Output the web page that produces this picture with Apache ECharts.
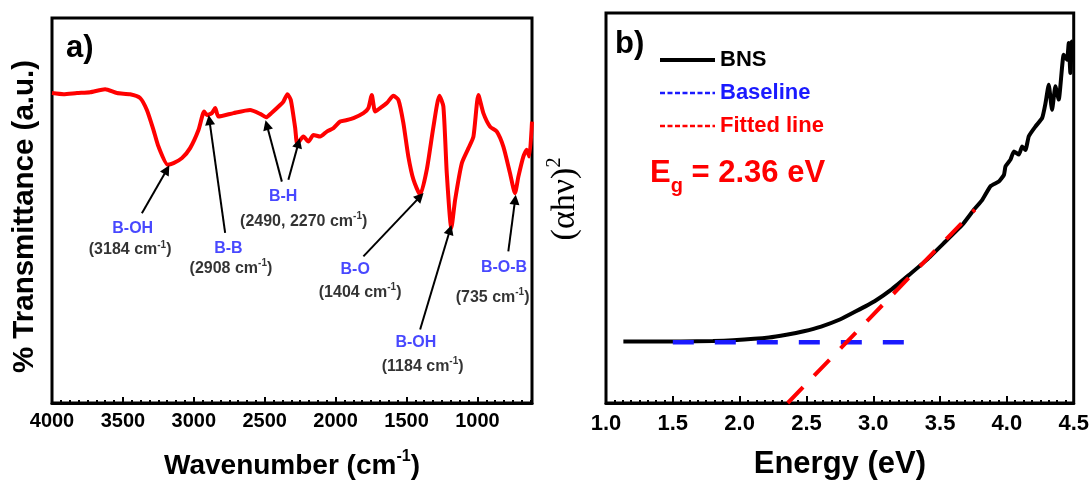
<!DOCTYPE html>
<html>
<head>
<meta charset="utf-8">
<script src="https://cdn.jsdelivr.net/npm/echarts@6/dist/echarts.min.js"></script>
<style>
  html, body { margin: 0; padding: 0; background: #fff; }
  #chart { width: 1092px; height: 485px; }
</style>
</head>
<body>
<div id="chart"></div>
<script>
// a) FTIR spectrum
const ftirWavenumber = [4000, 3919, 3824, 3731, 3625, 3542, 3449, 3378, 3331, 3284,
  3249, 3184, 3143, 3084, 3026, 2967, 2927, 2908, 2873, 2849,
  2826, 2720, 2603, 2532, 2490, 2450, 2391, 2368, 2340, 2316,
  2285, 2270, 2227, 2192, 2156, 2109, 2062, 2015, 1968, 1921,
  1874, 1804, 1769, 1745, 1721, 1686, 1639, 1592, 1557, 1522,
  1487, 1451, 1404, 1357, 1310, 1268, 1240, 1216, 1184, 1157,
  1110, 1063, 1028, 993, 958, 911, 863, 817, 770, 735,
  711, 676, 652, 634, 615];
const ftirTransmittance = [80.5, 80.2, 80.5, 80.7, 81.5, 80.5, 80.2, 79.2, 76.1, 70.9,
  66.6, 61.9, 62.3, 63.6, 66.2, 70.9, 75.7, 74.8, 75.3, 76.6,
  74.4, 75.3, 76.1, 75.1, 74.2, 75.4, 77.4, 78.3, 80.2, 78.7,
  71.4, 67.3, 69.2, 67.9, 69.6, 69.2, 70.5, 71.4, 73.1, 73.5,
  74.0, 75.3, 76.6, 80.0, 75.7, 76.6, 77.9, 79.8, 78.7, 72.7,
  64.0, 58.0, 54.1, 60.6, 71.8, 79.8, 77.0, 59.7, 45.4, 52.8,
  62.3, 66.2, 69.2, 80.0, 75.3, 71.8, 70.5, 66.6, 59.7, 54.5,
  58.8, 64.0, 65.8, 64.0, 73.1];
const wnTicks = [4000, 3500, 3000, 2500, 2000, 1500, 1000];

// band annotations
const bandNames = ['B-OH', 'B-B', 'B-H', 'B-O', 'B-OH', 'B-O-B'];
const bandWaves = ['3184', '2908', '2490, 2270', '1404', '1184', '735'];
const bandNameAt = [[3431, 45.4], [2756, 40.1], [2370, 53.6], [1862, 34.6], [1434, 15.7], [812, 35.3]];
const bandWaveAt = [[3449, 39.8], [2738, 34.9], [2225, 47.2], [1827, 28.8], [1386, 9.5], [893, 27.5]];
const arrowFrom = [[3366, 49.3], [2779, 44.2], [2379, 57.5], [2333, 58.0], [1804, 38.1], [1404, 19.1], [782, 39.4]];
const arrowTo = [[3190, 60.6], [2890, 73.5], [2485, 72.2], [2262, 67.5], [1404, 53.6], [1193, 45.0], [734, 52.8]];

// b) Tauc plot
const energy = [1.13, 1.30, 1.56, 1.80, 1.95, 2.22, 2.35, 2.48, 2.61, 2.75,
  2.87, 3.01, 3.14, 3.27, 3.40, 3.54, 3.667, 3.754, 3.816, 3.878,
  3.94, 3.978, 3.99, 4.027, 4.052, 4.09, 4.114, 4.139, 4.164, 4.214,
  4.264, 4.289, 4.313, 4.338, 4.363, 4.388, 4.425, 4.45, 4.463, 4.475,
  4.487, 4.495];
const tauc = [15.8, 15.8, 15.8, 15.9, 16.1, 16.8, 17.5, 18.4, 19.6, 21.4,
  23.5, 26.1, 29.2, 32.9, 36.7, 41.4, 45.7, 49.6, 52.1, 55.6,
  56.8, 58.5, 60.7, 62.4, 64.5, 63.7, 65.8, 64.9, 68.4, 70.9,
  73.1, 76.9, 81.6, 75.2, 81.2, 77.8, 89.3, 88.0, 92.3, 84.6,
  92.7, 87.2];
const baselineE = [1.5, 3.27];
const baselineLevel = 15.6;
const fitE = [2.36, 3.76];
const fitY = [0, 49.6];

const FONT = 'Liberation Sans, Arial, sans-serif';
const BLUE = '#1a1aff';
const RED = '#ff0000';

// minor ticks of panel a
const wnMinor = [];
for (let w = 4000; w >= 615; w -= 62.5) wnMinor.push(w);

const chart = echarts.init(document.getElementById('chart'), null, {renderer: 'canvas'});

const option = {
  animation: false,
  textStyle: {fontFamily: FONT},
  grid: [
    {left: 52, top: 18, width: 480, height: 386, show: true, borderColor: '#000', borderWidth: 3},
    {left: 606, top: 13, width: 469, height: 390, show: true, borderColor: '#000', borderWidth: 3}
  ],
  xAxis: [
    {
      gridIndex: 0, type: 'value', inverse: true, min: 615, max: 4000, position: 'bottom',
      axisLine: {onZero: false, lineStyle: {color: '#000', width: 3}},
      axisTick: {inside: true, length: 6, lineStyle: {color: '#000', width: 2}, customValues: wnTicks},
      axisLabel: {customValues: wnTicks, color: '#000', fontSize: 20, fontWeight: 'bold', margin: 8,
        formatter: (v) => String(v)},
      splitLine: {show: false},
      name: '{t|Wavenumber (cm}{s|-1}{t|)}', nameLocation: 'middle', nameGap: 46,
      nameTextStyle: {
        rich: {
          t: {fontSize: 28, fontWeight: 'bold', color: '#000', lineHeight: 34, fontFamily: FONT},
          s: {fontSize: 16, fontWeight: 'bold', color: '#000', lineHeight: 16, verticalAlign: 'top', fontFamily: FONT}
        }
      }
    },
    {
      gridIndex: 0, type: 'value', inverse: true, min: 615, max: 4000, position: 'bottom',
      axisLine: {show: false},
      axisTick: {inside: true, length: 3, lineStyle: {color: '#000', width: 2}, customValues: wnMinor},
      axisLabel: {show: false},
      splitLine: {show: false}
    },
    {
      gridIndex: 1, type: 'value', min: 1, max: 4.5, interval: 0.5,
      axisLine: {onZero: false, lineStyle: {color: '#000', width: 3}},
      axisTick: {inside: true, length: 7, lineStyle: {color: '#000', width: 2}},
      minorTick: {show: true, splitNumber: 8, length: 3, lineStyle: {color: '#000', width: 2}},
      axisLabel: {color: '#000', fontSize: 22, fontWeight: 'bold', margin: 10, formatter: (v) => v.toFixed(1)},
      splitLine: {show: false},
      name: 'Energy (eV)', nameLocation: 'middle', nameGap: 46,
      nameTextStyle: {fontSize: 31, fontWeight: 'bold', color: '#000'}
    }
  ],
  yAxis: [
    {
      gridIndex: 0, type: 'value', min: 0, max: 100,
      axisLine: {show: false}, axisTick: {show: false}, axisLabel: {show: false}, splitLine: {show: false},
      name: '% Transmittance (a.u.)', nameLocation: 'middle', nameGap: 12,
      nameTextStyle: {fontSize: 29.5, fontWeight: 'bold', color: '#000', padding: [0, 12, 0, 0]}
    },
    {
      gridIndex: 1, type: 'value', min: 0, max: 100,
      axisLine: {show: false}, axisTick: {show: false}, axisLabel: {show: false}, splitLine: {show: false},
      name: '{p|(\u03b1h\u03bd)}{s|2}', nameLocation: 'middle', nameGap: 21,
      nameTextStyle: {
        padding: [0, 0, 0, 18],
        rich: {
          p: {fontSize: 34, fontFamily: 'Liberation Serif, serif', color: '#000', lineHeight: 40},
          s: {fontSize: 20, fontFamily: 'Liberation Serif, serif', color: '#000', lineHeight: 18, verticalAlign: 'top'}
        }
      }
    }
  ],
  legend: {
    left: 653, top: 44, orient: 'vertical', selectedMode: false,
    itemWidth: 55, itemHeight: 14, itemGap: 11,
    itemStyle: {opacity: 0},
    textStyle: {fontSize: 22, fontWeight: 'bold', lineHeight: 22, fontFamily: FONT},
    data: [
      {name: 'BNS', textStyle: {color: '#000'}, lineStyle: {width: 4}},
      {name: 'Baseline', textStyle: {color: BLUE}, lineStyle: {type: [5, 2.5], width: 2.5}},
      {name: 'Fitted line', textStyle: {color: RED}, lineStyle: {type: [5, 2.5], width: 2.5}}
    ]
  },
  graphic: [
    {type: 'text', left: 66, top: 33, style: {text: 'a)', fill: '#000', font: 'bold 31px ' + FONT}},
    {type: 'text', left: 615, top: 29, style: {text: 'b)', fill: '#000', font: 'bold 31px ' + FONT}},
    {
      type: 'text', left: 650, top: 158,
      style: {
        text: '{m|E}{g|g}{m| = 2.36 eV}',
        rich: {
          m: {fontSize: 31, fontWeight: 'bold', fill: RED, lineHeight: 46, fontFamily: FONT},
          g: {fontSize: 20, fontWeight: 'bold', fill: RED, lineHeight: 16, verticalAlign: 'bottom', fontFamily: FONT}
        }
      }
    }
  ],
  series: [
    {
      name: 'FTIR', type: 'line', xAxisIndex: 0, yAxisIndex: 0,
      data: ftirWavenumber.map((w, i) => [w, ftirTransmittance[i]]),
      showSymbol: false, symbol: 'none', smooth: 0.2,
      lineStyle: {color: RED, width: 4}, z: 3,
      markLine: {
        silent: true, symbol: ['none', 'triangle'], symbolSize: 10,
        lineStyle: {color: '#000', width: 2, type: 'solid'},
        itemStyle: {color: '#000'},
        label: {show: false}, emphasis: {disabled: true},
        data: arrowFrom.map((p, i) => [{coord: p}, {coord: arrowTo[i]}])
      }
    },
    {
      name: 'bandName', type: 'scatter', xAxisIndex: 0, yAxisIndex: 0, symbolSize: 0, silent: true,
      data: bandNameAt.map((p, i) => ({value: p, name: bandNames[i]})),
      label: {show: true, position: 'inside', formatter: (p) => p.name,
        color: BLUE, fontSize: 16, fontWeight: 'bold', fontFamily: FONT}
    },
    {
      name: 'bandWave', type: 'scatter', xAxisIndex: 0, yAxisIndex: 0, symbolSize: 0, silent: true,
      data: bandWaveAt.map((p, i) => ({value: p, name: bandWaves[i]})),
      label: {show: true, position: 'inside',
        formatter: (p) => '{w|(' + p.name + ' cm}{s|-1}{w|)}',
        rich: {
          w: {color: '#000', fontSize: 16, fontWeight: 'bold', lineHeight: 20, fontFamily: FONT},
          s: {color: '#000', fontSize: 10, fontWeight: 'bold', lineHeight: 10, verticalAlign: 'top', fontFamily: FONT}
        }}
    },
    {
      name: 'BNS', type: 'line', xAxisIndex: 2, yAxisIndex: 1,
      data: energy.map((e, i) => [e, tauc[i]]),
      showSymbol: false, symbol: 'none', smooth: 0.15,
      lineStyle: {color: '#000', width: 4}, itemStyle: {color: '#000'}, z: 2
    },
    {
      name: 'Baseline', type: 'line', xAxisIndex: 2, yAxisIndex: 1,
      data: baselineE.map((e) => [e, baselineLevel]),
      showSymbol: false, symbol: 'none',
      lineStyle: {color: BLUE, width: 4.5, type: [21, 21]}, itemStyle: {color: BLUE}, z: 3
    },
    {
      name: 'Fitted line', type: 'line', xAxisIndex: 2, yAxisIndex: 1,
      data: fitE.map((e, i) => [e, fitY[i]]),
      showSymbol: false, symbol: 'none',
      lineStyle: {color: RED, width: 4, type: [22, 16]}, itemStyle: {color: RED}, z: 4
    }
  ]
};

chart.setOption(option);
</script>
</body>
</html>
